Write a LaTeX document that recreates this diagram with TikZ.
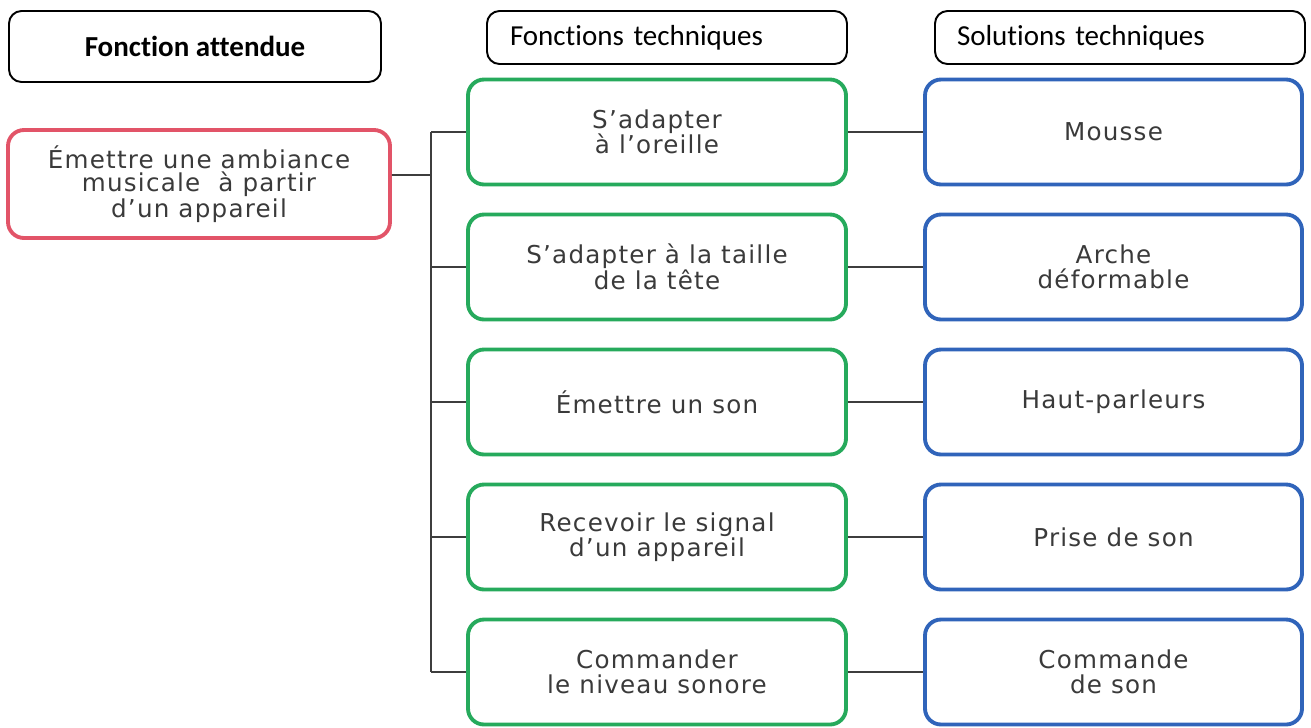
\documentclass[tikz,border=0pt]{standalone}
\usepackage{fontspec}
\setmainfont{Carlito}[Ligatures=NoCommon]
\newfontfamily\boitefont[LetterSpace=5]{DejaVu Sans}
\usepackage{tikz}
\usetikzlibrary{shapes,positioning}

\definecolor{rouge}{RGB}{226,84,104}
\definecolor{vert}{RGB}{38,170,92}
\definecolor{bleu}{RGB}{48,100,186}
\definecolor{gristexte}{RGB}{58,58,58}
\definecolor{trait}{RGB}{62,62,62}

\begin{document}
\begin{tikzpicture}[line width = 1 pt, node distance = 2.7 cm,
titre/.style = {draw, rounded corners=0.25cm, line width=1.1pt, font=\fontsize{16.5}{19}\selectfont},
boite/.style = {draw, rounded corners=0.32cm, line width=2.2pt, minimum width=7.56cm,
  minimum height=2.1cm, align=center, text=gristexte, font=\boitefont\fontsize{14}{14.5}\selectfont},
lien/.style = {draw=trait, line width=1pt}]

\useasboundingbox (0,0) rectangle (26.22,-14.54);

% titres des colonnes
\node [titre, minimum width=7.44cm, minimum height=1.42cm] (fa) at (3.9,-0.93) {\textbf{Fonction attendue}};
\node [titre, text width=6.28cm, inner xsep=0.46cm, minimum height=1.06cm, align=left] (ft) at (13.34,-0.75) {Fonctions techniques};
\node [titre, text width=6.52cm, inner xsep=0.44cm, minimum height=1.06cm, align=left] (st) at (22.4,-0.75) {Solutions techniques};

% fonction attendue
\node [boite, draw=rouge, minimum width=7.64cm, minimum height=2.16cm, font=\boitefont\fontsize{14}{13.2}\selectfont] (emettre) at (3.98,-3.68) {Émettre une ambiance\\musicale \ à partir\\d’un appareil};

% fonctions techniques
\node [boite, draw=vert] (f1) at (13.14,-2.64) {S’adapter\\à l’oreille};
\node [boite, draw=vert] (f2) [below of=f1] {S’adapter à la taille\\de la tête};
\node [boite, draw=vert] (f3) [below of=f2] {Émettre un son};
\node [boite, draw=vert] (f4) [below of=f3] {Recevoir le signal\\d’un appareil};
\node [boite, draw=vert] (f5) [below of=f4] {Commander\\le niveau sonore};

% solutions techniques
\node [boite, draw=bleu, minimum width=7.54cm] (s1) [right of=f1, node distance=9.13cm] {Mousse};
\node [boite, draw=bleu, minimum width=7.54cm] (s2) [right of=f2, node distance=9.13cm] {Arche\\déformable};
\node [boite, draw=bleu, minimum width=7.54cm] (s3) [right of=f3, node distance=9.13cm] {Haut-parleurs};
\node [boite, draw=bleu, minimum width=7.54cm] (s4) [right of=f4, node distance=9.13cm] {Prise de son};
\node [boite, draw=bleu, minimum width=7.54cm] (s5) [right of=f5, node distance=9.13cm] {Commande\\de son};

% liaisons
\coordinate (noeud) at (8.62,-3.5);
\draw [lien] ([yshift=0.18cm]emettre.east) -- (noeud);
\draw [lien] (noeud |- f1) -- (noeud |- f5);
\draw [lien] (noeud |- f1) -- (f1.west);
\draw [lien] (noeud |- f2) -- (f2.west);
\draw [lien] (noeud |- f3) -- (f3.west);
\draw [lien] (noeud |- f4) -- (f4.west);
\draw [lien] (noeud |- f5) -- (f5.west);

\draw [lien] (f1) -- (s1);
\draw [lien] (f2) -- (s2);
\draw [lien] (f3) -- (s3);
\draw [lien] (f4) -- (s4);
\draw [lien] (f5) -- (s5);

\end{tikzpicture}
\end{document}
